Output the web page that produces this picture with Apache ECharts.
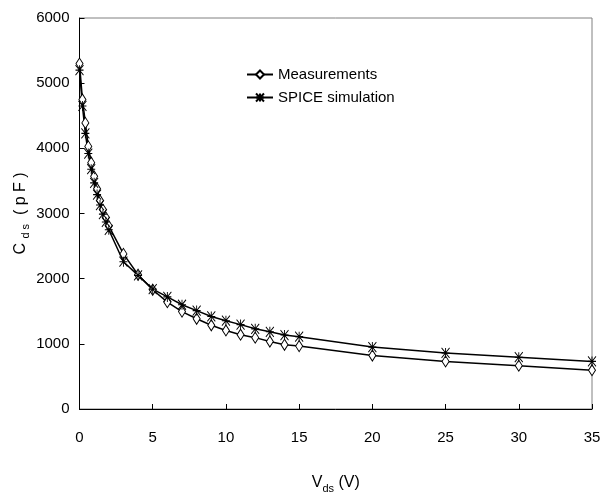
<!DOCTYPE html>
<html>
<head>
<meta charset="utf-8">
<script src="https://cdn.jsdelivr.net/npm/echarts@6/dist/echarts.min.js"></script>
<style>
  html, body { margin: 0; padding: 0; background: #fff; }
  #chart { width: 601px; height: 498px; }
</style>
</head>
<body>
<div id="chart"></div>
<script>
  // Vds (V)
  var vds = [0, 0.2, 0.4, 0.6, 0.8, 1.0, 1.2, 1.4, 1.6, 1.8, 2.0,
             3, 4, 5, 6, 7, 8, 9, 10, 11, 12, 13, 14, 15, 20, 25, 30, 35];
  // Cds (pF)
  var measured = [5300, 4750, 4390, 4030, 3780, 3570, 3380, 3200, 3060, 2940, 2810,
                  2380, 2060, 1830, 1640, 1495, 1385, 1285, 1205, 1140, 1095, 1035, 985, 965,
                  820, 730, 665, 595];
  var spice = [5200, 4650, 4230, 3920, 3680, 3470, 3290, 3130, 2990, 2870, 2750,
               2260, 2050, 1840, 1720, 1600, 1510, 1420, 1355, 1295, 1230, 1185, 1135, 1110,
               950, 860, 795, 730];

  var FONT = '"Liberation Sans", Arial, sans-serif';
  var asterisk = 'path://M0,0L8,10M8,0L0,10M4,0L4,10M0,5L8,5';

  function pairs(xs, ys) {
    return xs.map(function(x, i) { return [x, ys[i]]; });
  }
  function plain(v) { return String(v); }

  var nameRich = {
    n: { fontFamily: FONT, fontSize: 16, lineHeight: 22, verticalAlign: 'middle', color: '#000' },
    s: { fontFamily: FONT, fontSize: 11, verticalAlign: 'bottom', color: '#000' }
  };

  var chart = echarts.init(document.getElementById('chart'));
  chart.setOption({
    animation: false,
    textStyle: { fontFamily: FONT, color: '#000' },
    grid: {
      left: 79.5, right: 9, top: 18, bottom: 89,
      outerBoundsMode: 'none',
      show: true, borderColor: '#808080', borderWidth: 1
    },
    legend: {
      orient: 'vertical',
      left: 241, top: 62,
      itemWidth: 26, itemHeight: 10, itemGap: 8,
      textStyle: { fontFamily: FONT, fontSize: 15, color: '#000' },
      data: ['Measurements', 'SPICE simulation']
    },
    xAxis: {
      type: 'value', min: 0, max: 35, interval: 5,
      name: '{n|V}{s|ds}{n| (V)}',
      nameLocation: 'middle', nameGap: 63, nameMoveOverlap: false,
      nameTextStyle: { rich: nameRich },
      axisLine: { lineStyle: { color: '#000', width: 1 } },
      axisTick: { inside: true, length: 5, lineStyle: { color: '#000' } },
      axisLabel: { margin: 21, fontSize: 15, color: '#000', fontFamily: FONT, formatter: plain },
      splitLine: { show: false }
    },
    yAxis: {
      type: 'value', min: 0, max: 6000, interval: 1000,
      name: '{n|C }{s|d s}{n|  ( p F )}',
      nameLocation: 'middle', nameGap: 48, nameRotate: 90, nameMoveOverlap: false,
      nameTextStyle: { rich: nameRich },
      axisLine: { show: true, lineStyle: { color: '#000', width: 1 } },
      axisTick: { show: true, inside: true, length: 5, lineStyle: { color: '#000' } },
      axisLabel: { margin: 10, fontSize: 15, color: '#000', fontFamily: FONT, formatter: plain },
      splitLine: { show: false }
    },
    series: [
      {
        name: 'Measurements',
        type: 'line',
        data: pairs(vds, measured),
        symbol: 'diamond',
        symbolSize: [7, 11],
        showAllSymbol: true,
        itemStyle: { color: '#fff', borderColor: '#000', borderWidth: 1 },
        lineStyle: { color: '#000', width: 1.5 }
      },
      {
        name: 'SPICE simulation',
        type: 'line',
        data: pairs(vds, spice),
        symbol: asterisk,
        symbolSize: [8, 10],
        showAllSymbol: true,
        itemStyle: { color: '#000', borderColor: '#000', borderWidth: 1 },
        lineStyle: { color: '#000', width: 1.5 }
      }
    ]
  });
</script>
</body>
</html>
